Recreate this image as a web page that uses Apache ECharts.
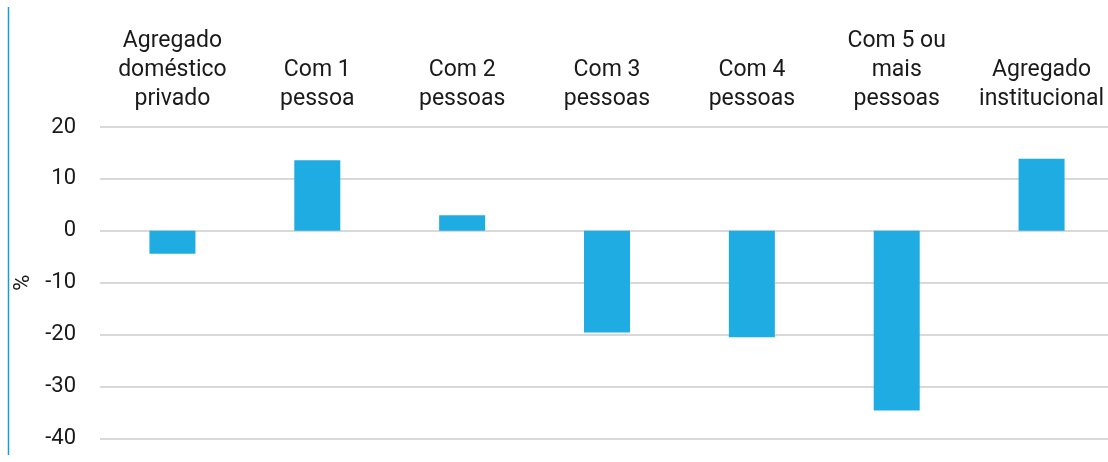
<!DOCTYPE html>
<html>
<head>
<meta charset="utf-8">
<script src="https://cdn.jsdelivr.net/npm/echarts@6/dist/echarts.min.js"></script>
<style>
html,body{margin:0;padding:0;background:#fff;}
#c{width:1108px;height:462px;}
</style>
</head>
<body>
<div id="c"></div>
<script>
const categories = [
  "Agregado\ndoméstico\nprivado",
  "Com 1\npessoa",
  "Com 2\npessoas",
  "Com 3\npessoas",
  "Com 4\npessoas",
  "Com 5 ou\nmais\npessoas",
  "Agregado\ninstitucional"
];
const values = [-4.4, 13.6, 3.0, -19.6, -20.5, -34.6, 13.9];
const yMin = -40, yMax = 20, yStep = 10;
const yName = "%";

const chart = echarts.init(document.getElementById('c'), null, {renderer: 'canvas'});
const font = 'Roboto, "Open Sans", sans-serif';
chart.setOption({
  animation: false,
  backgroundColor: '#ffffff',
  graphic: [{
    type: 'line',
    shape: {x1: 8.5, y1: 7, x2: 8.5, y2: 455},
    style: {stroke: '#1a9ad6', lineWidth: 1.5}
  }],
  grid: {left: 100, width: 1014, top: 127, bottom: 23.5, containLabel: false, outerBoundsMode: 'none'},
  xAxis: {
    type: 'category',
    position: 'top',
    data: categories,
    axisLine: {show: false},
    axisTick: {show: false},
    axisLabel: {
      interval: 0,
      color: '#1a1a1a',
      fontFamily: font,
      fontSize: 23,
      lineHeight: 29,
      margin: 13
    }
  },
  yAxis: {
    type: 'value',
    min: yMin, max: yMax, interval: yStep,
    name: yName,
    nameLocation: 'middle',
    nameGap: 50,
    nameRotate: 90,
    nameTextStyle: {color: '#1a1a1a', fontFamily: font, fontSize: 22},
    axisLine: {show: false},
    axisTick: {show: false},
    axisLabel: {
      color: '#1a1a1a',
      fontFamily: font,
      fontSize: 22,
      margin: 24
    },
    splitLine: {lineStyle: {color: '#d9d9d9', width: 2}}
  },
  series: [{
    type: 'bar',
    data: values,
    barWidth: 46,
    itemStyle: {color: '#1eace2'}
  }]
});
</script>
</body>
</html>
